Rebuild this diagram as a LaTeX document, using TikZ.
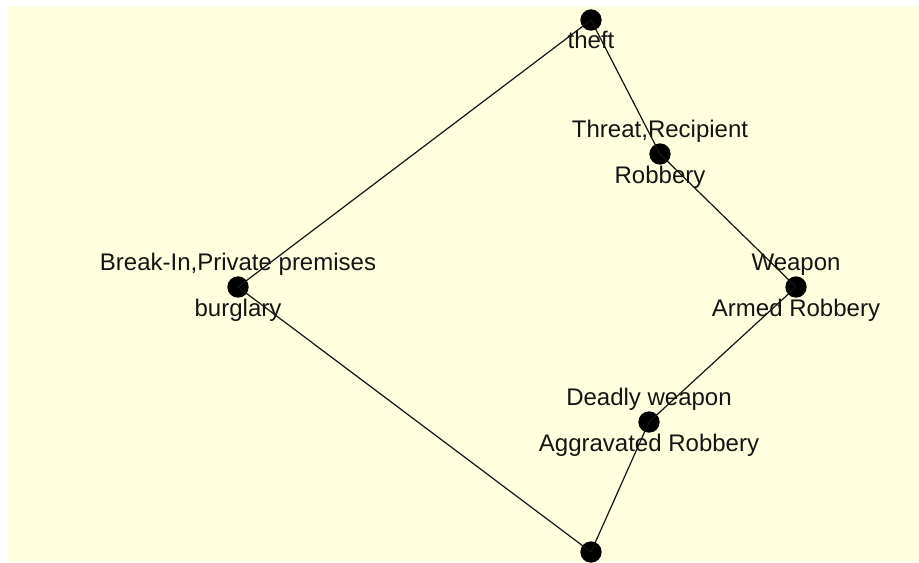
\documentclass[tikz,border=0pt]{standalone}
\usepackage{fontspec}
\setmainfont{Liberation Sans}
\usetikzlibrary{calc}
\definecolor{paper}{RGB}{255,255,224}
\definecolor{ink}{RGB}{20,20,20}
\tikzset{
  vertex/.style={circle, fill=black, inner sep=0pt, minimum size=16},
  edge/.style={draw=ink, line width=0.9},
  lbl/.style={anchor=base, inner sep=0pt, text=ink, font=\fontsize{18pt}{21pt}\selectfont},
}
\begin{document}
\begin{tikzpicture}[x=0.75pt, y=-0.75pt]
  % page and canvas
  \useasboundingbox (0,0) rectangle (919,562);
  \fill[white] (0,0) rectangle (919,562);
  \fill[paper] (8,6) rectangle (919,562);

  % concept vertices
  \node[vertex] (theft)      at (591,20)  {};
  \node[vertex] (robbery)    at (660,154) {};
  \node[vertex] (burglary)   at (238,287) {};
  \node[vertex] (armed)      at (796,287) {};
  \node[vertex] (aggravated) at (649,422) {};
  \node[vertex] (bottom)     at (591,552) {};

  % lattice edges
  \draw[edge] (theft.center) -- (burglary.center);
  \draw[edge] (theft.center) -- (robbery.center);
  \draw[edge] (robbery.center) -- (armed.center);
  \draw[edge] (armed.center) -- (aggravated.center);
  \draw[edge] (aggravated.center) -- (bottom.center);
  \draw[edge] (burglary.center) -- (bottom.center);

  % attribute labels (above) and object labels (below)
  \node[lbl] (theftobj) at ($(theft)+(0,28)$) {theft};

  \node[lbl] (robberyatt) at ($(robbery)+(0,-17)$) {Threat,Recipient};
  \node[lbl] (robberyobj) at ($(robbery)+(0,29)$) {Robbery};

  \node[lbl] (burglaryatt) at ($(burglary)+(0,-17)$) {Break-In,Private premises};
  \node[lbl] (burglaryobj) at ($(burglary)+(0,29)$) {burglary};

  \node[lbl] (armedatt) at ($(armed)+(0,-17)$) {Weapon};
  \node[lbl] (armedobj) at ($(armed)+(0,29)$) {Armed Robbery};

  \node[lbl] (aggravatedatt) at ($(aggravated)+(0,-17)$) {Deadly weapon};
  \node[lbl] (aggravatedobj) at ($(aggravated)+(0,29)$) {Aggravated Robbery};
\end{tikzpicture}
\end{document}
